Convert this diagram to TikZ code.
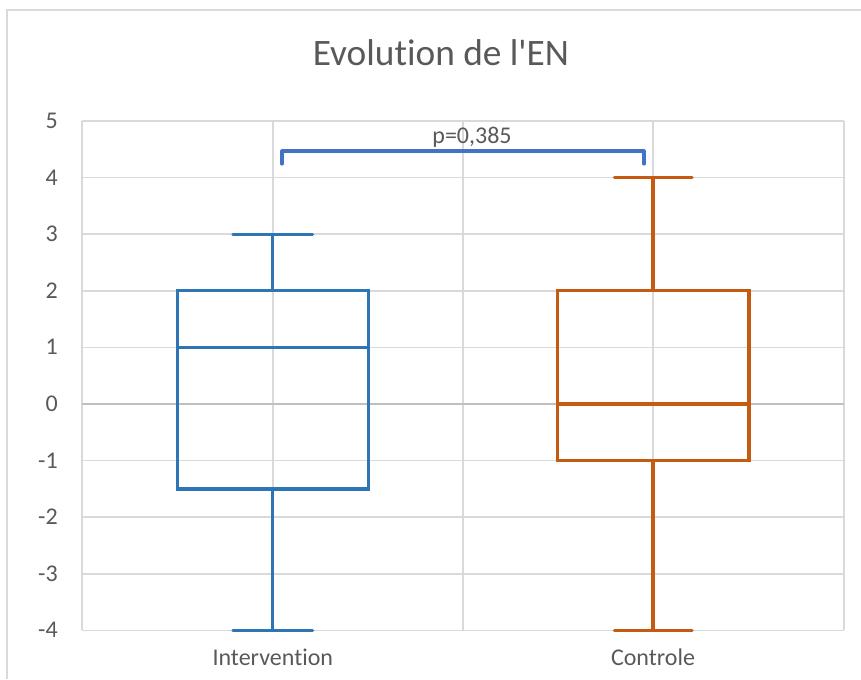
\documentclass[tikz,border=0pt]{standalone}
\usepackage{fontspec}
\setmainfont{Carlito}[Ligatures={NoCommon,TeXOff}]
\definecolor{txtc}{HTML}{595959}
\definecolor{gridc}{HTML}{D9D9D9}
\definecolor{axisc}{HTML}{BFBFBF}
\definecolor{bluebox}{HTML}{2E75B6}
\definecolor{orangebox}{HTML}{C55A11}
\definecolor{bracketc}{HTML}{4472C4}
\begin{document}
\begin{tikzpicture}[x=0.75pt,y=-0.75pt,
  gridline/.style={draw=gridc, line width=1.1pt},
  zeroline/.style={draw=axisc, line width=1.1pt},
  frameline/.style={draw=gridc, line width=1.3pt},
  boxline/.style={line width=2.4pt, line cap=rect},
  capline/.style={line width=2.4pt, line cap=round},
  bracketline/.style={draw=bracketc, line width=2.3pt, line cap=round, line join=round},
  ticklbl/.style={anchor=base east, text=txtc, font=\fontsize{18}{20}\selectfont, inner sep=0pt},
  catlbl/.style={anchor=base, text=txtc, font=\fontsize{18}{20}\selectfont, inner sep=0pt},
  titlelbl/.style={anchor=base, text=txtc, font=\fontsize{28}{30}\selectfont, inner sep=0pt}]
\useasboundingbox (0,0) rectangle (861,679);
% outer chart frame (cropped)
\draw[frameline] (7,679) -- (7,10) -- (861,10);
% title
\node[titlelbl] (title) at (441,65) {Evolution de l'EN};
% horizontal gridlines and tick labels
\foreach \v in {5,4,3,2,1,-1,-2,-3,-4}{
  \draw[gridline] (82,{404-56.6*\v}) -- (844,{404-56.6*\v});
}
\foreach \v in {5,4,3,2,1,0,-1,-2,-3,-4}{
  \node[ticklbl] (tick\v) at (58,{404-56.6*\v+7.5}) {\v};
}
% vertical gridlines
\foreach \x in {82,272.8,463,653,844}{
  \draw[gridline] (\x,{404-56.6*5}) -- (\x,{404+56.6*4});
}
% zero line
\draw[zeroline] (82,404) -- (844,404);
% Intervention box
\begin{scope}[draw=bluebox]
  \draw[boxline] (177.3,{404-56.6*2}) rectangle (368.3,{404+56.6*1.5});
  \draw[boxline] (177.3,{404-56.6*1}) -- (368.3,{404-56.6*1});
  \draw[boxline] (272.8,{404-56.6*2}) -- (272.8,{404-56.6*3});
  \draw[boxline] (272.8,{404+56.6*1.5}) -- (272.8,{404+56.6*4});
  \draw[capline] (233,{404-56.6*3}) -- (312.6,{404-56.6*3});
  \draw[capline] (233,{404+56.6*4}) -- (312.6,{404+56.6*4});
\end{scope}
% Controle box
\begin{scope}[draw=orangebox]
  \draw[boxline] (557.5,{404-56.6*2}) rectangle (749,{404+56.6*1});
  \draw[boxline] (557.5,404) -- (749,404);
  \draw[boxline] (653,{404-56.6*2}) -- (653,{404-56.6*4});
  \draw[boxline] (653,{404+56.6*1}) -- (653,{404+56.6*4});
  \draw[capline] (614.5,{404-56.6*4}) -- (692,{404-56.6*4});
  \draw[capline] (614.5,{404+56.6*4}) -- (692,{404+56.6*4});
\end{scope}
% significance bracket
\coordinate (bl) at (282,164);
\coordinate (br) at (644,164);
\draw[bracketline] (bl) -- (282,151) -- (644,151) -- (br);
\node[catlbl] (pval) at (472,143) {p=0,385};
% category labels
\node[catlbl] (cat1) at (272.8,665) {Intervention};
\node[catlbl] (cat2) at (653,665) {Controle};
\end{tikzpicture}
\end{document}
